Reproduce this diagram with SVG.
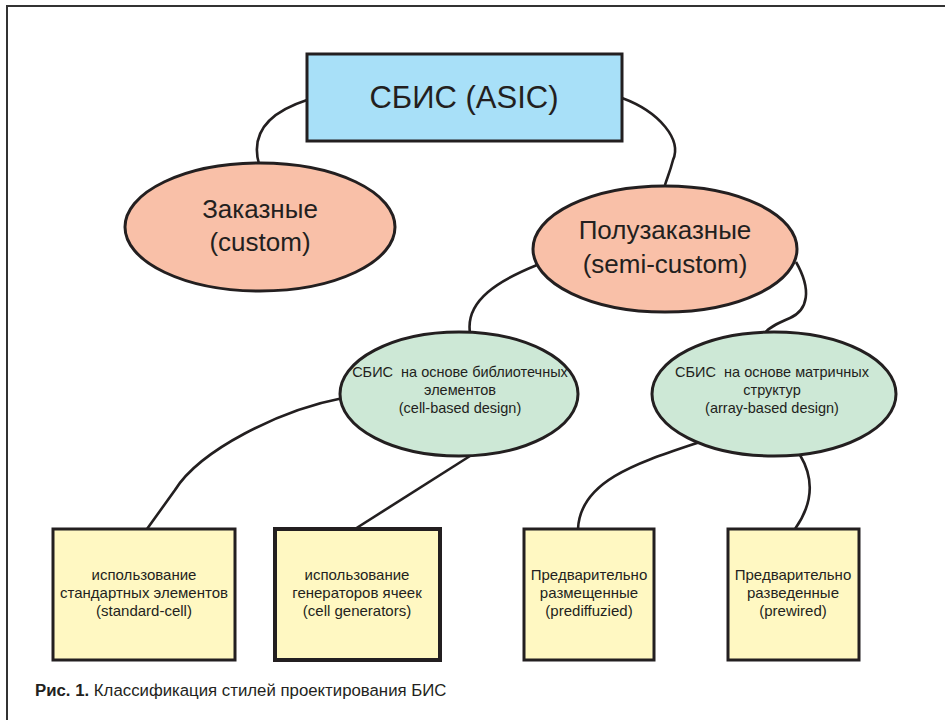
<svg xmlns="http://www.w3.org/2000/svg" width="945" height="720" viewBox="0 0 945 720">
<style>
text{font-family:"Liberation Sans","DejaVu Sans",sans-serif;fill:#231f20;text-anchor:middle}
.n{stroke:#231f20;stroke-width:3}
.c{fill:none;stroke:#231f20;stroke-width:2.6}
.t1{font-size:31px}
.t2{font-size:26px}
.t3{font-size:15px}
.t4{font-size:14.5px}
</style>
<rect x="0" y="0" width="945" height="720" fill="#ffffff"/>
<path d="M7,720 V6 H945" fill="none" stroke="#333" stroke-width="2"/>
<g id="connectors">
<path class="c" d="M307,100 C270,112 250,132 259,164"/>
<path class="c" d="M622,98 C660,112 682,140 673,160 C670,172 667,178 665,185"/>
<path class="c" d="M537,265 C500,280 465,300 470,333"/>
<path class="c" d="M796,262 C812,290 808,310 790,318 C776,324 768,328 765,333"/>
<path class="c" d="M343,398 C280,410 200,450 175,490 L147,529"/>
<path class="c" d="M470,456 L355,529"/>
<path class="c" d="M700,442 C640,462 580,480 578,529"/>
<path class="c" d="M800,455 C815,480 812,505 795,529"/>
</g>
<g id="asic">
<rect class="n" x="307" y="54" width="315" height="87" fill="#a8e0f8"/>
<text class="t1" x="464" y="108">СБИС (ASIC)</text>
</g>
<g id="custom">
<ellipse class="n" cx="260" cy="227" rx="135" ry="64" fill="#f9c0a8"/>
<text class="t2" x="260" y="218">Заказные</text>
<text class="t2" x="260" y="251">(custom)</text>
</g>
<g id="semicustom">
<ellipse class="n" cx="665" cy="249" rx="132" ry="63" fill="#f9c0a8"/>
<text class="t2" x="665" y="239">Полузаказные</text>
<text class="t2" x="665" y="273">(semi-custom)</text>
</g>
<g id="cellbased">
<ellipse class="n" cx="459" cy="394" rx="119" ry="62" fill="#cde8d6"/>
<text class="t4" x="460" y="377">СБИС&#160; на основе библиотечных</text>
<text class="t4" x="460" y="395">элементов</text>
<text class="t4" x="460" y="413">(cell-based design)</text>
</g>
<g id="arraybased">
<ellipse class="n" cx="774" cy="394" rx="122" ry="62" fill="#cde8d6"/>
<text class="t4" x="772" y="377">СБИС&#160; на основе матричных</text>
<text class="t4" x="772" y="395">структур</text>
<text class="t4" x="772" y="413">(array-based design)</text>
</g>
<g id="standardcell">
<rect class="n" x="53" y="529" width="182" height="131" fill="#fff8c2"/>
<text class="t3" x="144" y="580">использование</text>
<text class="t3" x="144" y="598">стандартных элементов</text>
<text class="t3" x="144" y="616">(standard-cell)</text>
</g>
<g id="cellgenerators">
<rect x="275" y="529" width="165" height="131" fill="#fff8c2" stroke="#231f20" stroke-width="4"/>
<text class="t3" x="357" y="580">использование</text>
<text class="t3" x="357" y="598">генераторов ячеек</text>
<text class="t3" x="357" y="616">(cell generators)</text>
</g>
<g id="prediffused">
<rect class="n" x="524" y="529" width="130" height="131" fill="#fff8c2"/>
<text class="t3" x="589" y="580">Предварительно</text>
<text class="t3" x="589" y="598">размещенные</text>
<text class="t3" x="589" y="616">(prediffuzied)</text>
</g>
<g id="prewired">
<rect class="n" x="728" y="529" width="131" height="131" fill="#fff8c2"/>
<text class="t3" x="793" y="580">Предварительно</text>
<text class="t3" x="793" y="598">разведенные</text>
<text class="t3" x="793" y="616">(prewired)</text>
</g>
<text x="35" y="696" style="font-size:16.8px;text-anchor:start"><tspan font-weight="bold">Рис. 1.</tspan> Классификация стилей проектирования БИС</text>
</svg>
